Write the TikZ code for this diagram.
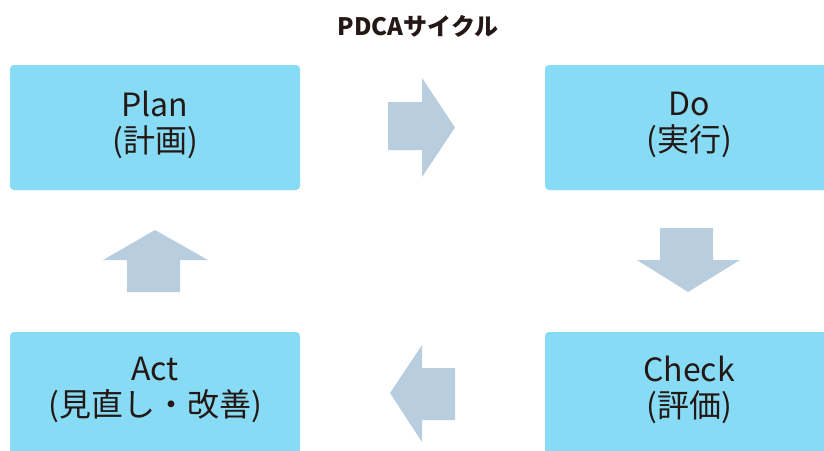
\documentclass[tikz,border=0pt]{standalone}
\usepackage{fontspec}
\setmainfont{Noto Sans CJK JP}
\definecolor{boxfill}{HTML}{88DBF5}
\definecolor{arrowfill}{HTML}{B8CEDF}
\definecolor{ink}{HTML}{231815}
\begin{document}
\begin{tikzpicture}[x=1pt,y=-1pt,
  stagebox/.style={fill=boxfill,draw=none,rounded corners=4pt},
  lbl/.style={align=center,text=ink,font=\fontsize{32}{36}\selectfont,inner sep=0pt},
  blockarrow/.style={fill=arrowfill,draw=none}]
\useasboundingbox (0,0) rectangle (824,450);
\clip (0,0) rectangle (824,450);
% boxes
\fill[stagebox] (10,65) rectangle (300,190);
\coordinate (plan) at (155,127.5);
\fill[stagebox] (545,65) rectangle (840,190);
\coordinate (do) at (689,127.5);
\fill[stagebox] (545,332) rectangle (840,470);
\coordinate (check) at (689,391);
\fill[stagebox] (10,332) rectangle (300,470);
\coordinate (act) at (155,391);
% labels
\node[lbl] (plantext) at (155,125) {Plan\\(計画)};
\node[lbl] (dotext) at (689,125) {Do\\(実行)};
\node[lbl] (checktext) at (689,390) {Check\\(評価)};
\node[lbl] (acttext) at (155,390) {Act\\(見直し・改善)};
\node[text=ink,font=\fontsize{24}{27}\selectfont\bfseries,inner sep=0pt] (title) at (418,26) {PDCAサイクル};
% arrows
\fill[blockarrow] (388,102) -- (422,102) -- (422,78) -- (455,127.5) -- (422,177) -- (422,150) -- (388,150) -- cycle;
\fill[blockarrow] (660,228) -- (713,228) -- (713,260) -- (740,260) -- (688,292) -- (637,260) -- (660,260) -- cycle;
\fill[blockarrow] (455,368) -- (422,368) -- (422,345) -- (390,393) -- (422,442) -- (422,420) -- (455,420) -- cycle;
\fill[blockarrow] (127,292) -- (127,260) -- (103,260) -- (155,230) -- (208,260) -- (180,260) -- (180,292) -- cycle;
\end{tikzpicture}
\end{document}
